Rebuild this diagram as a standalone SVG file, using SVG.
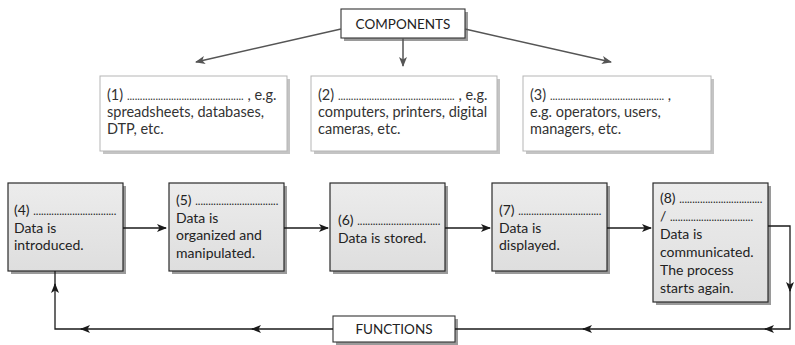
<svg xmlns="http://www.w3.org/2000/svg" width="795" height="345" viewBox="0 0 795 345">
<defs>
<marker id="ag" viewBox="0 0 10 8" refX="9" refY="4" markerWidth="10" markerHeight="8" markerUnits="userSpaceOnUse" orient="auto">
<path d="M0,0 L10,4 L0,8 L2.5,4 z" fill="#555"/>
</marker>
<marker id="ak" viewBox="0 0 10 8" refX="9" refY="4" markerWidth="10" markerHeight="8" markerUnits="userSpaceOnUse" orient="auto">
<path d="M0,0 L10,4 L0,8 L2.5,4 z" fill="#1a1a1a"/>
</marker>
<linearGradient id="gf" x1="0" y1="0" x2="0" y2="1">
<stop offset="0" stop-color="#ececec"/>
<stop offset="1" stop-color="#dedede"/>
</linearGradient>
</defs>
<style>
.t{font-family:Lato,"Open Sans","Liberation Sans",sans-serif;font-size:14px;fill:#222}
.tt{font-family:Lato,"Open Sans","Liberation Sans",sans-serif;font-size:14.5px;fill:#333}
.cap{font-family:Lato,"Open Sans","Liberation Sans",sans-serif;font-size:13.5px;fill:#222;text-anchor:middle}
.d{font-size:11px}
.box{fill:url(#gf);stroke:#2a2a2a;stroke-width:1.2}
.sh{fill:#9a9a9a}
.lsh{fill:#c4c4c4}
.wbox{fill:#fff;stroke:#b5b5b5;stroke-width:1}
.lbl{fill:#fff;stroke:#333;stroke-width:1.1}
.cg{fill:none;stroke:#555;stroke-width:1.5}
.ck{fill:none;stroke:#1a1a1a;stroke-width:1.3}
</style>

<g id="components">
<rect class="sh" x="344" y="12" width="124" height="29"/>
<rect class="lbl" x="341" y="9" width="124" height="29"/>
<text class="cap" x="403" y="28.5">COMPONENTS</text>
</g>

<g id="box1">
<rect class="lsh" x="103" y="79" width="187" height="75"/>
<rect class="wbox" x="100" y="76" width="187" height="75"/>
<text class="tt" x="107" y="100">(1) <tspan class="d">.............................................</tspan> , e.g.</text>
<text class="tt" x="107" y="117">spreadsheets, databases,</text>
<text class="tt" x="107" y="134">DTP, etc.</text>
</g>

<g id="box2">
<rect class="lsh" x="314" y="79" width="186" height="75"/>
<rect class="wbox" x="311" y="76" width="186" height="75"/>
<text class="tt" x="318" y="100">(2) <tspan class="d">.............................................</tspan> , e.g.</text>
<text class="tt" x="318" y="117">computers, printers, digital</text>
<text class="tt" x="318" y="134">cameras, etc.</text>
</g>

<g id="box3">
<rect class="lsh" x="526" y="79" width="188" height="75"/>
<rect class="wbox" x="523" y="76" width="188" height="75"/>
<text class="tt" x="530" y="100">(3) <tspan class="d">............................................</tspan> ,</text>
<text class="tt" x="530" y="117">e.g. operators, users,</text>
<text class="tt" x="530" y="134">managers, etc.</text>
</g>

<g id="box4">
<rect class="sh" x="11" y="186" width="115" height="88"/>
<rect class="box" x="8" y="183" width="115" height="88"/>
<text class="t" x="14" y="215">(4) <tspan class="d">................................</tspan></text>
<text class="t" x="14" y="232.5">Data is</text>
<text class="t" x="14" y="250">introduced.</text>
</g>

<g id="box5">
<rect class="sh" x="172" y="186" width="115" height="88"/>
<rect class="box" x="169" y="183" width="115" height="88"/>
<text class="t" x="176" y="205">(5) <tspan class="d">................................</tspan></text>
<text class="t" x="176" y="222.5">Data is</text>
<text class="t" x="176" y="240">organized and</text>
<text class="t" x="176" y="257.5">manipulated.</text>
</g>

<g id="box6">
<rect class="sh" x="333" y="186" width="115" height="88"/>
<rect class="box" x="330" y="183" width="115" height="88"/>
<text class="t" x="338" y="225">(6) <tspan class="d">................................</tspan></text>
<text class="t" x="338" y="243">Data is stored.</text>
</g>

<g id="box7">
<rect class="sh" x="495" y="186" width="115" height="88"/>
<rect class="box" x="492" y="183" width="115" height="88"/>
<text class="t" x="499" y="215">(7) <tspan class="d">................................</tspan></text>
<text class="t" x="499" y="232.5">Data is</text>
<text class="t" x="499" y="250">displayed.</text>
</g>

<g id="box8">
<rect class="sh" x="656" y="186" width="115" height="119"/>
<rect class="box" x="653" y="183" width="115" height="119"/>
<text class="t" x="660" y="203">(8) <tspan class="d">................................</tspan></text>
<text class="t" x="660" y="221">/ <tspan class="d">................................</tspan></text>
<text class="t" x="660" y="239">Data is</text>
<text class="t" x="660" y="257">communicated.</text>
<text class="t" x="660" y="275">The process</text>
<text class="t" x="660" y="293">starts again.</text>
</g>

<g id="functions">
<rect class="sh" x="336" y="319" width="122" height="26"/>
<rect class="lbl" x="333" y="316" width="122" height="26"/>
<text class="cap" x="394" y="334">FUNCTIONS</text>
</g>

<g id="connectors">
<path class="cg" d="M341,29 L196,62" marker-end="url(#ag)"/>
<path class="cg" d="M403,38 L403,66" marker-end="url(#ag)"/>
<path class="cg" d="M465,29 L611,62" marker-end="url(#ag)"/>
<path class="ck" d="M123,228 L166,228" marker-end="url(#ak)"/>
<path class="ck" d="M284,228 L328,228" marker-end="url(#ak)"/>
<path class="ck" d="M445,228 L490,228" marker-end="url(#ak)"/>
<path class="ck" d="M607,228 L651,228" marker-end="url(#ak)"/>
<path class="ck" d="M768,226 L790,226 L790,291" marker-end="url(#ak)"/>
<path class="ck" d="M790,288 L790,329 L765,329" marker-end="url(#ak)"/>
<path class="ck" d="M767,329 L583,329" marker-end="url(#ak)"/>
<path class="ck" d="M585,329 L455,329"/>
<path class="ck" d="M333,329 L252,329" marker-end="url(#ak)"/>
<path class="ck" d="M254,329 L81,329" marker-end="url(#ak)"/>
<path class="ck" d="M83,329 L55,329 L55,284" marker-end="url(#ak)"/>
<path class="ck" d="M55,286 L55,271"/>
</g>
</svg>
